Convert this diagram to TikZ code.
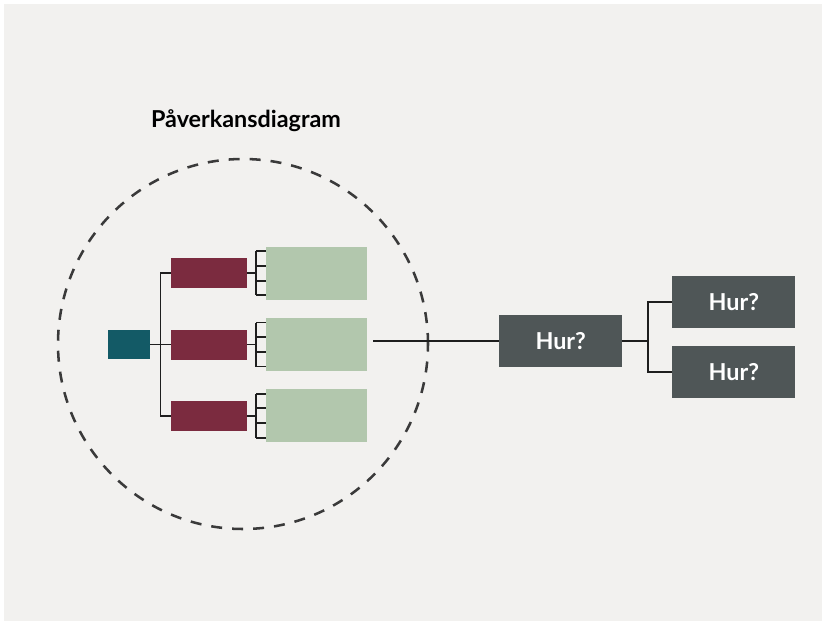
\documentclass[tikz,border=0pt]{standalone}
\usepackage{fontspec}
\setmainfont{Lato}
\usetikzlibrary{positioning}
\definecolor{bakgrund}{HTML}{F2F1EF}
\definecolor{petrol}{HTML}{135A66}
\definecolor{vinrod}{HTML}{7B2B3F}
\definecolor{salvia}{HTML}{B2C7AD}
\definecolor{skiffer}{HTML}{4F5657}
\definecolor{linje}{HTML}{1E1E1E}
\definecolor{streck}{HTML}{3A3A3A}

\begin{document}
\begin{tikzpicture}[
        x=0.75pt, y=-0.75pt,
        node distance=30.5pt and 14pt,
        startbox/.style={rectangle, fill=petrol, minimum width=31.5pt, minimum height=21.75pt, inner sep=0pt},
        faktorbox/.style={rectangle, fill=vinrod, minimum width=57pt, minimum height=22.5pt, inner sep=0pt},
        detaljbox/.style={rectangle, fill=salvia, minimum width=75.75pt, minimum height=40pt, inner sep=0pt},
        hurbox/.style={rectangle, fill=skiffer, text=white, font=\bfseries\fontsize{17.5}{20}\selectfont, minimum width=92pt, minimum height=39pt, inner sep=0pt},
        line/.style={draw=linje, line width=1.3pt}
        ]
        \fill[white] (0,0) rectangle (826,625);
        \fill[bakgrund] (4,4) rectangle (822,621);

        \node[font=\bfseries\fontsize{17.5}{21}\selectfont] (rubrik) at (246,121) {Påverkansdiagram};
        \draw[streck, line width=1.9pt, dash pattern=on 8.25pt off 7.5pt] (243,344) circle[radius=138.75pt];

        \node[startbox] (orsak) at (129,344.5) {};
        \node[faktorbox] (faktor2) at (209,344.5) {};
        \node[faktorbox, above=of faktor2] (faktor1) {};
        \node[faktorbox, below=of faktor2] (faktor3) {};
        \foreach \i in {1,2,3}
          \node[detaljbox, right=of faktor\i] (detalj\i) {};

        \coordinate (gren) at ([xshift=7.7pt]orsak.east);
        \path[line] (orsak.east) -- (gren);
        \foreach \i in {1,2,3} {
          \path[line] (faktor\i.west) -| (gren);
          \path[line] (faktor\i.east) -- ([shift={(-9.7,0)}]detalj\i.west);
          \path[line] ([shift={(-9.7,-22)}]detalj\i.west) -- ([shift={(-9.7,22)}]detalj\i.west);
          \foreach \dy in {-22,-7.5,7.5,22}
            \path[line] ([shift={(-9.7,\dy)}]detalj\i.west) -- ([shift={(0,\dy)}]detalj\i.west);
        }

        \node[hurbox] (hur) at (560.7,341) {Hur?};
        \node[hurbox] (hur1) at (733.8,302.2) {Hur?};
        \node[hurbox] (hur2) at (733.8,372.2) {Hur?};

        \coordinate (utgang) at (373,341);
        \path[line] (utgang) -- (hur.west);
        \coordinate (hurgren) at ([xshift=19.3pt]hur.east);
        \path[line] (hur.east) -- (hurgren);
        \path[line] (hur1.west) -| (hurgren);
        \path[line] (hur2.west) -| (hurgren);
      \end{tikzpicture}
\end{document}
